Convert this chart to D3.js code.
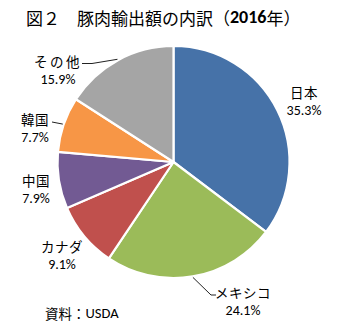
<!DOCTYPE html>
<html><head><meta charset="utf-8">
<script src="https://cdn.jsdelivr.net/npm/d3@7"></script>
<style>
html,body{margin:0;padding:0;background:#fff;}
svg{display:block;}
</style></head>
<body>
<script>
// ---- data ----
const categories = ["日本", "メキシコ", "カナダ", "中国", "韓国", "その他"];
const shares = [35.3, 24.1, 9.1, 7.9, 7.7, 15.9];
const pctLabels = ["35.3%", "24.1%", "9.1%", "7.9%", "7.7%", "15.9%"];
const colors = ["#4672A8", "#9BBB59", "#C0504D", "#725A93", "#F79646", "#A5A5A5"];
const titleMain = "図２　豚肉輸出額の内訳（";
const titleYear = "2016";
const titleEnd = "年）";
const sourceText = "資料：";
const sourceName = "USDA";

// ---- layout ----
const W = 348, H = 330;
const cx = 173.5, cy = 162, R = 116;
// label centres (name line), per slice
const labelPos = [[304, 92], [243, 292], [62, 246], [36, 180], [35, 119], [58, 61]];
const lineGap = 18;
// leader line bend points (null = no leader)
const leaders = [null, [[211, 295], [216, 295]], null, null, [[52, 122]], [[92, 63.5], [82, 63.5]]];

const svg = d3.select("body").append("svg").attr("width", W).attr("height", H);

const pie = d3.pie().sort(null).value(d => d)(shares);
const arc = d3.arc().innerRadius(0).outerRadius(R);

const g = svg.append("g").attr("transform", `translate(${cx},${cy})`);
g.selectAll("path").data(pie).enter().append("path")
  .attr("d", arc)
  .attr("fill", (d, i) => colors[i])
  .attr("stroke", "#fff")
  .attr("stroke-width", 2.2)
  .attr("stroke-linejoin", "round");

// leader lines
pie.forEach((d, i) => {
  if (!leaders[i]) return;
  const a = (d.startAngle + d.endAngle) / 2;
  const start = [cx + (R + 1) * Math.sin(a), cy - (R + 1) * Math.cos(a)];
  const pts = [start].concat(leaders[i]);
  svg.append("path")
    .attr("d", d3.line()(pts))
    .attr("fill", "none")
    .attr("stroke", "#222")
    .attr("stroke-width", 1);
});

// labels
const cjk = "'Noto Sans CJK JP', 'Noto Sans', sans-serif";
const lat = "Carlito, Lato, 'Open Sans', sans-serif";
categories.forEach((c, i) => {
  const [x, y] = labelPos[i];
  svg.append("text").attr("x", x).attr("y", y)
    .attr("text-anchor", "middle").attr("dominant-baseline", "central")
    .attr("font-family", cjk).attr("font-size", 13.5).attr("fill", "#000")
    .attr("letter-spacing", c === "その他" ? 2.5 : 0.5)
    .text(c);
  svg.append("text").attr("x", x).attr("y", y + lineGap)
    .attr("text-anchor", "middle").attr("dominant-baseline", "central")
    .attr("font-family", lat).attr("font-size", 14).attr("fill", "#000")
    .text(pctLabels[i]);
});

// title
const t = svg.append("text").attr("x", 26).attr("y", 17)
  .attr("dominant-baseline", "central")
  .attr("font-family", cjk).attr("font-size", 17).attr("fill", "#000");
t.append("tspan").text(titleMain);
t.append("tspan").attr("font-weight", "bold").attr("font-family", lat).attr("font-size", 18).text(titleYear);
t.append("tspan").text(titleEnd);

// source
const s = svg.append("text").attr("x", 45).attr("y", 313)
  .attr("dominant-baseline", "central")
  .attr("font-family", cjk).attr("font-size", 13.5).attr("fill", "#000");
s.append("tspan").text(sourceText);
s.append("tspan").attr("font-family", lat).attr("font-size", 14.5).text(sourceName);
</script>
</body></html>
